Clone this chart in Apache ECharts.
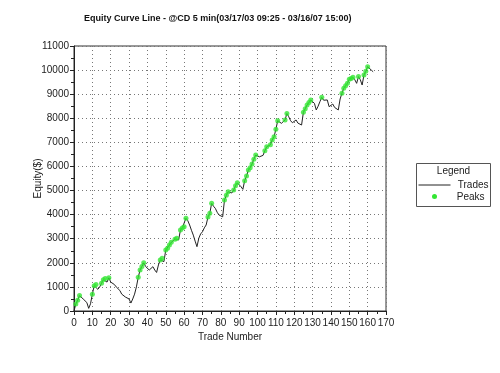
<!DOCTYPE html>
<html>
<head>
<meta charset="utf-8">
<script src="https://cdn.jsdelivr.net/npm/echarts@6/dist/echarts.min.js"></script>
<style>html,body{margin:0;padding:0;background:#fff}#c{width:500px;height:373px}</style>
</head>
<body>
<div id="c"></div>
<script>
// Equity after each trade (index = trade number)
var equity = [
  0, 290, 450, 640, 560, 500, 580, 350, 110, 300,
  700, 1050, 1100, 900, 1000, 1150, 1300, 1350, 1200, 1380,
  1200, 1150, 1100, 1000, 950, 850, 700, 620, 580, 600,
  500, 330, 500, 700, 1000, 1400, 1700, 1850, 2000, 1850,
  1770, 1700, 1630, 1840, 1700, 1600, 1910, 2120, 2190, 2050,
  2530, 2600, 2740, 2850, 2800, 2980, 3020, 2950, 3360, 3450,
  3500, 3850, 3750, 3570, 3350, 3150, 2900, 2670, 3020, 3200,
  3290, 3450, 3570, 3900, 4060, 4470, 4350, 4260, 4100, 3985,
  3950, 3910, 4610, 4800, 4950, 4880, 4900, 5020, 5200, 5320,
  5250, 5160, 5050, 5410, 5600, 5850, 5950, 6100, 6300, 6475,
  6420, 6400, 6350, 6460, 6650, 6820, 6750, 6900, 7100, 7235,
  7540, 7900, 7850, 7790, 7850, 7930, 8200, 8065, 7900, 7815,
  7860, 7930, 7800, 7860, 7720, 8250, 8400, 8550, 8650, 8760,
  8700, 8620, 8345, 8500, 8690, 8870, 8750, 8690, 8760, 8480,
  8550, 8590, 8450, 8410, 8345, 8800, 9040, 9245, 9350, 9450,
  9620, 9650, 9700, 9600, 9450, 9730, 9600, 9380, 9800, 9950,
  10140, 10070, 10000, 9930
];
var titleText = 'Equity Curve Line - @CD 5 min(03/17/03 09:25 - 03/16/07 15:00)';
var xName = 'Trade Number';
var yName = 'Equity($)';
var legendTitle = 'Legend';
var seriesNames = ['Trades', 'Peaks'];

var tradeData = equity.map(function (v, i) { return [i, v]; });
var peakData = [];
var hi = 0;
equity.forEach(function (v, i) { if (v > hi) { hi = v; peakData.push([i, v]); } });

var FONT = 'Liberation Sans, Arial, sans-serif';
var LINE_COLOR = '#222';
var PEAK_COLOR = '#33e633';
var chart = echarts.init(document.getElementById('c'));
var axisText = { color: '#222', fontSize: 10, fontFamily: FONT };
chart.setOption({
  animation: false,
  backgroundColor: '#fff',
  title: {
    text: titleText, left: 79, top: 9,
    textStyle: { fontSize: 9, fontWeight: 'bold', color: '#111', fontFamily: FONT }
  },
  grid: { left: 74, right: 114, top: 46, bottom: 62, show: true, borderColor: '#333', borderWidth: 1, backgroundColor: '#fff' },
  graphic: [{
    type: 'group', left: 416, top: 163,
    children: [
      { type: 'rect', shape: { x: 0, y: 0, width: 74, height: 43 }, style: { fill: '#fff', stroke: '#555', lineWidth: 1 } },
      { type: 'text', x: 37, y: 3, style: { text: legendTitle, fontSize: 10, fill: '#222', fontFamily: FONT, align: 'center', verticalAlign: 'top' } },
      { type: 'line', shape: { x1: 2, y1: 21.5, x2: 34, y2: 21.5 }, style: { stroke: LINE_COLOR, lineWidth: 1 } },
      { type: 'text', x: 72, y: 22, style: { text: seriesNames[0], fontSize: 10, fill: '#222', fontFamily: FONT, align: 'right', verticalAlign: 'middle' } },
      { type: 'circle', shape: { cx: 18, cy: 33, r: 2.5 }, style: { fill: PEAK_COLOR } },
      { type: 'text', x: 68, y: 34, style: { text: seriesNames[1], fontSize: 10, fill: '#222', fontFamily: FONT, align: 'right', verticalAlign: 'middle' } }
    ]
  }],
  xAxis: {
    type: 'value', min: 0, max: 170, interval: 10,
    name: xName, nameLocation: 'middle', nameGap: 21, nameMoveOverlap: false,
    nameTextStyle: axisText,
    axisLine: { lineStyle: { color: '#222' } },
    axisTick: { length: 4, lineStyle: { color: '#222' } },
    minorTick: { show: true, splitNumber: 2, length: 3, lineStyle: { color: '#222' } },
    axisLabel: Object.assign({ margin: 7, formatter: function (v) { return String(v); } }, axisText),
    splitLine: { show: true, lineStyle: { color: '#777', type: [1, 3], width: 1 } }
  },
  yAxis: {
    type: 'value', min: 0, max: 11000, interval: 1000,
    name: yName, nameLocation: 'middle', nameGap: 31, nameRotate: 90, nameMoveOverlap: false,
    nameTextStyle: axisText,
    axisLine: { show: true, lineStyle: { color: '#222' } },
    axisTick: { show: true, length: 4, lineStyle: { color: '#222' } },
    minorTick: { show: true, splitNumber: 2, length: 3, lineStyle: { color: '#222' } },
    axisLabel: Object.assign({ margin: 5, formatter: function (v) { return String(v); } }, axisText),
    splitLine: { show: true, lineStyle: { color: '#777', type: [1, 3], width: 1 } }
  },
  series: [{
    name: seriesNames[0], type: 'line', data: tradeData,
    showSymbol: false, symbol: 'none',
    lineStyle: { color: LINE_COLOR, width: 1 }, itemStyle: { color: LINE_COLOR }, z: 2
  }, {
    name: seriesNames[1], type: 'scatter', data: peakData,
    symbol: 'circle', symbolSize: 5,
    itemStyle: { color: PEAK_COLOR }, z: 3
  }]
});
</script>
</body>
</html>
